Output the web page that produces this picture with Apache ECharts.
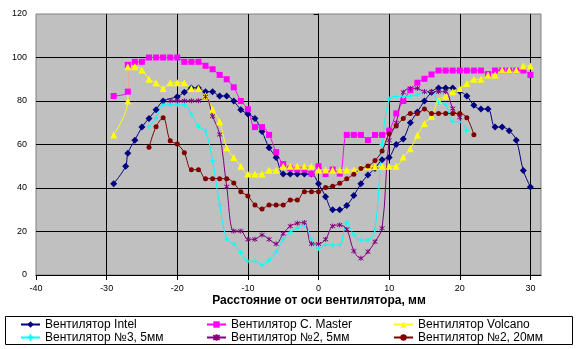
<!DOCTYPE html>
<html>
<head>
<meta charset="utf-8">
<script src="https://cdn.jsdelivr.net/npm/echarts@6/dist/echarts.min.js"></script>
<style>
  html, body { margin: 0; padding: 0; background: #fff; }
  #chart { width: 580px; height: 349px; }
</style>
</head>
<body>
<div id="chart"></div>
<script>
// Air speed (%) versus distance from the fan axis (mm), one list per fan.
const intel = [
  [-29,42],[-27.3,50],[-27,56],[-26,62],[-25,68],[-24,72],[-23,76],[-22,80],[-20,82],[-19,84],
  [-18,86],[-17,86],[-16,84.3],[-15,84.3],[-14,82.3],[-13,82.3],[-12,80],[-11,76],[-10,74],[-9,72],
  [-8,66],[-7,58.5],[-6,54],[-5,46.4],[-4,46.4],[-3,46.4],[-2,46.4],[-1,46.4],[0,42],[1,36],
  [2,30],[3,30],[4,32],[5,36.5],[6,42],[7,46],[8,49],[9,53],[10,54],[11,60],
  [12,62.5],[13,70],[14,75],[15,80],[16,84],[17,86],[18,86],[19,86],[20,84.5],[21,82.3],
  [22,78],[23,76.3],[24,76.3],[25,68],[26,68],[27,66.3],[28,62],[29,48],[30,40.5]
];
const coolerMaster = [
  [-29,82.3],[-27,84.3],[-27,96.6],[-26,98],[-25,98],[-24,100],[-23,100],[-22,100],[-21,100],[-20,100],
  [-19,98],[-18,98],[-17,98],[-16,96.2],[-15,94.6],[-14,92],[-13,90],[-12,86.3],[-11,80],[-10,76.2],
  [-9,68],[-8,68],[-7,64.4],[-6,56.5],[-5,51],[-4,49],[-3,48.5],[-2,48.5],[-1,46.6],[0,50],
  [1,46.4],[2,48.5],[3,46.6],[4,64.4],[5,64.4],[6,64.4],[7,62],[8,64.4],[9,64.4],[10,66.4],
  [11,74.3],[12,80],[13,85],[14,88.4],[15,90.2],[16,92.2],[17,94],[18,94],[19,94],[20,94],
  [21,94],[22,94],[23,94],[24,92.4],[25,94],[26,94],[27,94],[28,94],[29,94],[30,92]
];
const volcano = [
  [-29,64.4],[-27,80],[-27,95.8],[-26,95.8],[-25,94.3],[-24,90],[-23,88.4],[-22,85.8],[-21,88.4],[-20,88.4],
  [-19,88.4],[-18,85.8],[-17,85.8],[-16,82.5],[-15,76.2],[-14,70.5],[-13,58.5],[-12,54],[-11,50],[-10,46.4],
  [-9,46.4],[-8,46.4],[-7,48.2],[-6,48.2],[-5,50],[-4,50],[-3,50],[-2,50],[-1,50],[0,48.3],
  [1,48.3],[2,48.3],[3,48.3],[4,48.3],[5,48.3],[6,49.3],[7,49.8],[8,49.8],[9,50],[10,50],
  [11,50],[12,54.2],[13,58],[14,64.2],[15,69.7],[16,73],[17,80.3],[18,82.2],[19,84.3],[20,85.8],
  [21,88],[22,90],[23,90],[24,92],[25,92],[26,94.3],[27,94.3],[28,94.3],[29,96.1],[30,96.1]
];
const fan3at5 = [
  [-24,68],[-23,72.3],[-22,78.2],[-21,78.2],[-20,78.2],[-19,78.2],[-18,74],[-17,68.2],[-16,66.2],[-15,52.5],
  [-14,32.2],[-13,16.5],[-12,14.3],[-11,10.3],[-10,6.3],[-9,6.3],[-8,4.6],[-7,6.8],[-6,10.7],[-5,16.4],
  [-4,19.7],[-3,21.5],[-2,23],[-1,16.4],[0,12.3],[1,13.8],[2,13.8],[3,13.8],[4,24],[5,18.5],
  [6,16.1],[7,16.1],[8,21],[9,60],[10,81],[11,82],[12,82],[13,82.3],[14,83],[15,84.3],
  [16,84.3],[17,79.5],[18,78.5],[19,70.5],[20,70.5],[21,66.5]
];
const fan2at5 = [
  [-21,80.1],[-20,80.1],[-19,80.1],[-18,80.1],[-17,80.1],[-16,82],[-15,73],[-14,64.6],[-13,40.6],[-12,20.2],
  [-11,20.2],[-10,16.4],[-9,16.4],[-8,18.4],[-7,16.4],[-6,14.3],[-5,19],[-4,22.5],[-3,23.8],[-2,24.1],
  [-1,14.3],[0,14.3],[1,16.4],[2,22.5],[3,23],[4,21],[5,11],[6,7.7],[7,10.7],[8,15.3],
  [9,21.5],[10,62],[11,70],[12,84],[13,85.8],[14,85.8],[15,84.3],[16,84.3],[17,84.3],[18,84.3],
  [19,76.5],[20,72.5]
];
const fan2at20 = [
  [-24,58.7],[-23,68.2],[-22,72.3],[-21,61.7],[-20,60.2],[-19,56.2],[-18,48.4],[-17,48.4],[-16,44.3],[-15,44.3],
  [-14,44.3],[-13,44.3],[-12,42.3],[-11,38.3],[-10,36.3],[-9,32.2],[-8,30.3],[-7,32.2],[-6,32.2],[-5,32.2],
  [-4,34.5],[-3,34.5],[-2,38.3],[-1,38.3],[0,38.3],[1,40.2],[2,40.8],[3,42.2],[4,44.3],[5,46.3],
  [6,49],[7,50.1],[8,52.6],[9,57],[10,65],[11,68.5],[12,72],[13,74.3],[14,74.3],[15,76.3],
  [16,74.3],[17,74.3],[18,74.3],[19,74.3],[20,74.3],[21,72.3],[22,64.5]
];

const seriesNames = [
  'Вентилятор Intel', 'Вентилятор C. Master', 'Вентилятор Volcano',
  'Вентилятор №3, 5мм', 'Вентилятор №2, 5мм', 'Вентилятор №2, 20мм'
];
const xTicks = { min: -40, max: 31.5, step: 10 };
const yTicks = { min: 0, max: 120, step: 20 };
const xTitle = 'Расстояние от оси вентилятора, мм';
const yTitle = 'Скорость,%';

const FONT = 'Arial, "Liberation Sans", sans-serif';
const PLUS = 'path://M0,5L10,5M5,0L5,10';
const STAR = 'path://M5,0L5,10M1.5,1.5L8.5,8.5M8.5,1.5L1.5,8.5';

function line(name, data, color, symbol, size, stroked) {
  return {
    name, type: 'line', data,
    smooth: 0.35,
    color,
    symbol, symbolSize: size,
    showSymbol: true,
    lineStyle: { color, width: 1 },
    itemStyle: stroked
      ? { color: color, borderColor: color, borderWidth: 1 }
      : { color: color, borderWidth: 0 },
    emphasis: { disabled: true },
    z: 3
  };
}

const chart = echarts.init(document.getElementById('chart'), null, { renderer: 'canvas' });

const legendBase = {
  orient: 'vertical', top: 318, padding: 0,
  itemWidth: 19, itemHeight: 8, itemGap: 0,
  textStyle: { fontFamily: FONT, fontSize: 12, color: '#000', lineHeight: 13 },
  selectedMode: false
};

chart.setOption({
  animation: false,
  backgroundColor: '#fff',
  grid: {
    left: 36, top: 14, right: 39, bottom: 74,
    containLabel: false, outerBoundsMode: 'none',
    show: true, backgroundColor: '#C0C0C0', borderColor: '#808080', borderWidth: 1
  },
  xAxis: {
    type: 'value', min: xTicks.min, max: xTicks.max, interval: xTicks.step,
    axisLine: { show: true, onZero: false, lineStyle: { color: '#000', width: 1 } },
    axisTick: { show: true, length: 5, lineStyle: { color: '#000' } },
    axisLabel: { fontFamily: FONT, fontSize: 9, color: '#000', margin: 9, showMaxLabel: false },
    splitLine: { show: true, showMinLine: false, showMaxLine: false, lineStyle: { color: '#000', width: 1 } }
  },
  yAxis: {
    type: 'value', min: yTicks.min, max: yTicks.max, interval: yTicks.step,
    name: yTitle, nameLocation: 'middle', nameGap: 300, nameRotate: 90,
    nameTextStyle: { fontFamily: FONT, fontSize: 11.5, fontWeight: 'bold', color: '#000' },
    axisLine: { show: true, onZero: true, lineStyle: { color: '#000', width: 1 } },
    axisTick: { show: true, length: 5, lineStyle: { color: '#000' } },
    axisLabel: { fontFamily: FONT, fontSize: 9, color: '#000', margin: 9 },
    splitLine: { show: true, showMinLine: false, showMaxLine: false, lineStyle: { color: '#000', width: 1 } }
  },
  legend: [
    Object.assign({}, legendBase, { left: 20, data: [seriesNames[0], seriesNames[3]] }),
    Object.assign({}, legendBase, { left: 206, data: [seriesNames[1], seriesNames[4]] }),
    Object.assign({}, legendBase, { left: 393, data: [seriesNames[2], seriesNames[5]] })
  ],
  graphic: [
    {
      type: 'rect', z: 1, silent: true,
      shape: { x: 5.5, y: 316.5, width: 567, height: 28 },
      style: { fill: '#fff', stroke: '#000', lineWidth: 1 }
    },
    {
      type: 'text', z: 5, silent: true, x: 319, y: 301,
      style: {
        text: xTitle, fill: '#000', align: 'center', verticalAlign: 'middle',
        font: 'bold 12px Arial, "Liberation Sans", sans-serif'
      }
    }
  ],
  series: [
    line(seriesNames[0], intel, '#000080', 'diamond', 7),
    line(seriesNames[1], coolerMaster, '#FF00FF', 'rect', 6),
    line(seriesNames[2], volcano, '#FFFF00', 'triangle', 7),
    line(seriesNames[3], fan3at5, '#00FFFF', PLUS, 5, true),
    line(seriesNames[4], fan2at5, '#800080', STAR, 5, true),
    line(seriesNames[5], fan2at20, '#800000', 'circle', 5)
  ]
});
</script>
</body>
</html>
